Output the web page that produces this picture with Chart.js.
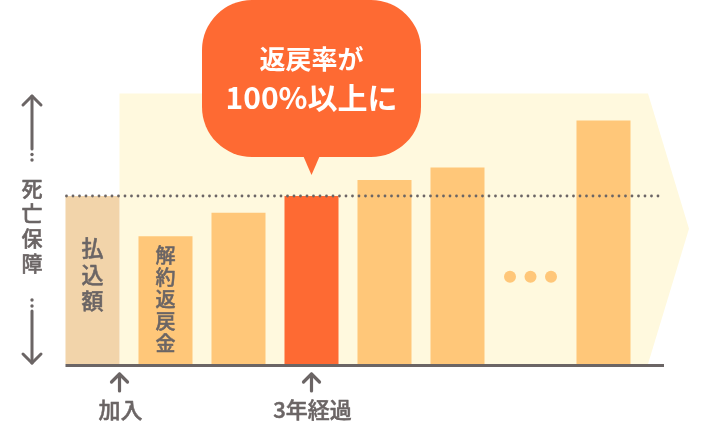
<!DOCTYPE html>
<html><head><meta charset="utf-8">
<script src="https://cdn.jsdelivr.net/npm/chart.js@4"></script>
<style>html,body{margin:0;padding:0;background:#fff;}#c{display:block;}</style>
</head><body>
<canvas id="c" width="710" height="422"></canvas>
<script>
// ---- data ----
const categories = ['払込額', '解約返戻金', '', '3年経過', '', '', '…', ''];
const values = [100, 76, 90, 100, 109.5, 117, null, 145];
const barColors = ['#F2D4AA', '#FFC779', '#FFC779', '#FE6A33', '#FFC779', '#FFC779', '#FFC779', '#FFC779'];
const deathBenefit = 100;
const bandTop = 161;
const ellipsisLevel = 52;
const sideLabel = '死亡保障';
const paidLabel = '払込額';
const surrenderLabel = '解約返戻金';
const markers = [{ label: '加入', at: 'bar0Right' }, { label: '3年経過', at: 3 }];
const bubbleLines = ['返戻率が', '100%以上に'];

const GRAY = '#6B6565';
const FONT = '"Noto Sans CJK JP", "Noto Sans", sans-serif';
const LW = '500';

function vtext(ctx, str, x, yStart, step) {
  [...str].forEach((ch, i) => ctx.fillText(ch, x, yStart + i * step));
}
function chevronUp(ctx, x, y, w) {
  ctx.beginPath(); ctx.moveTo(x - w, y + w); ctx.lineTo(x, y); ctx.lineTo(x + w, y + w); ctx.stroke();
}
function chevronDown(ctx, x, y, w) {
  ctx.beginPath(); ctx.moveTo(x - w, y - w); ctx.lineTo(x, y); ctx.lineTo(x + w, y - w); ctx.stroke();
}
function dot(ctx, x, y, r) { ctx.beginPath(); ctx.arc(x, y, r, 0, Math.PI * 2); ctx.fill(); }
function strokeText(ctx, t, x, y) { ctx.fillText(t, x, y); ctx.strokeText(t, x, y); }

const decor = {
  id: 'decor',
  beforeDatasetsDraw(chart) {
    const { ctx, scales: { y }, chartArea } = chart;
    const b0 = chart.getDatasetMeta(0).data[0];
    const left = b0.x + b0.width / 2;
    const top = y.getPixelForValue(bandTop);
    const bot = y.getPixelForValue(0);
    const right = chartArea.right + 8;
    const tip = right + 41;
    ctx.save();
    ctx.fillStyle = '#FFF9DE';
    ctx.beginPath();
    ctx.moveTo(left, top); ctx.lineTo(right, top); ctx.lineTo(tip, (top + bot) / 2);
    ctx.lineTo(right, bot); ctx.lineTo(left, bot); ctx.closePath(); ctx.fill();
    ctx.restore();
  },
  afterDatasetsDraw(chart) {
    const { ctx, scales: { x, y }, chartArea } = chart;
    const bars = chart.getDatasetMeta(0).data;
    const b0 = bars[0];
    const lineL = b0.x - b0.width / 2;
    const lineR = chartArea.right + 24;
    const base = y.getPixelForValue(0);
    ctx.save();
    // dotted death-benefit line
    ctx.fillStyle = GRAY;
    const yd = y.getPixelForValue(deathBenefit);
    for (let px = lineL + 1; px <= lineR; px += 6.5) dot(ctx, px, yd, 1.4);
    // baseline
    ctx.strokeStyle = GRAY; ctx.lineWidth = 3;
    ctx.beginPath(); ctx.moveTo(lineL, base + 1.5); ctx.lineTo(lineR, base + 1.5); ctx.stroke();

    // ellipsis dots
    ctx.fillStyle = '#FFC779';
    const ex = x.getPixelForValue(6), ey = y.getPixelForValue(ellipsisLevel);
    [-20.5, 0, 20.5].forEach(d => dot(ctx, ex + d, ey, 6));

    // vertical labels in bars (slightly emboldened with a thin stroke)
    ctx.fillStyle = GRAY; ctx.strokeStyle = GRAY; ctx.textAlign = 'center'; ctx.textBaseline = 'middle';
    ctx.lineWidth = 0.5; ctx.lineJoin = 'round';
    ctx.font = LW + ' 22px ' + FONT;
    [...paidLabel].forEach((ch, i) => strokeText(ctx, ch, b0.x, 248 + i * 26.5));
    ctx.font = LW + ' 20px ' + FONT;
    [...surrenderLabel].forEach((ch, i) => strokeText(ctx, ch, bars[1].x, 255 + i * 22));

    // left axis label + arrows
    const ax = 32;
    ctx.font = LW + ' 21px ' + FONT;
    [...sideLabel].forEach((ch, i) => strokeText(ctx, ch, ax, 188 + i * 25));
    ctx.lineWidth = 3; ctx.lineCap = 'round'; ctx.lineJoin = 'round';
    ctx.beginPath(); ctx.moveTo(ax, 96); ctx.lineTo(ax, 149); ctx.stroke();
    chevronUp(ctx, ax, 96, 9);
    dot(ctx, ax, 154.5, 1.7); dot(ctx, ax, 160, 1.7);
    ctx.beginPath(); ctx.moveTo(ax, 311); ctx.lineTo(ax, 363); ctx.stroke();
    chevronDown(ctx, ax, 363, 9);
    dot(ctx, ax, 300, 1.7); dot(ctx, ax, 306, 1.7);

    // bottom markers
    markers.forEach(m => {
      const mx = m.at === 'bar0Right' ? b0.x + b0.width / 2 : bars[m.at].x;
      ctx.lineWidth = 3.2;
      ctx.beginPath(); ctx.moveTo(mx, 374); ctx.lineTo(mx, 391); ctx.stroke();
      chevronUp(ctx, mx, 374, 8);
      ctx.font = LW + ' 22px ' + FONT;
      ctx.lineWidth = 0.5;
      strokeText(ctx, m.label, mx + 1, 410);
    });

    // speech bubble
    const bx = bars[3].x;
    const bw = 219, bh = 157, r = 50;
    const l = bx - bw / 2, t = 0;
    ctx.fillStyle = '#FE6A33';
    ctx.beginPath();
    ctx.roundRect(l, t, bw, bh, r);
    ctx.fill();
    ctx.beginPath();
    ctx.moveTo(bx - 10, bh - 5); ctx.lineTo(bx, 175); ctx.lineTo(bx + 10, bh - 5); ctx.closePath(); ctx.fill();
    ctx.fillStyle = '#FFFFFF';
    ctx.font = 'bold 26px ' + FONT;
    ctx.fillText(bubbleLines[0], bx, 59);
    ctx.font = 'bold 30px ' + FONT;
    ctx.fillText(bubbleLines[1], bx, 98);
    ctx.restore();
  }
};

new Chart(document.getElementById('c'), {
  type: 'bar',
  data: {
    labels: categories,
    datasets: [{ data: values, backgroundColor: barColors, borderWidth: 0, barPercentage: 0.74, categoryPercentage: 1 }]
  },
  options: {
    responsive: false,
    animation: false,
    devicePixelRatio: 1,
    layout: { padding: { left: 56, right: 70, top: 28, bottom: 58 } },
    plugins: { legend: { display: false }, tooltip: { enabled: false } },
    scales: {
      x: { display: false },
      y: { display: false, min: 0, max: 200 }
    }
  },
  plugins: [decor]
});
</script>
</body></html>
